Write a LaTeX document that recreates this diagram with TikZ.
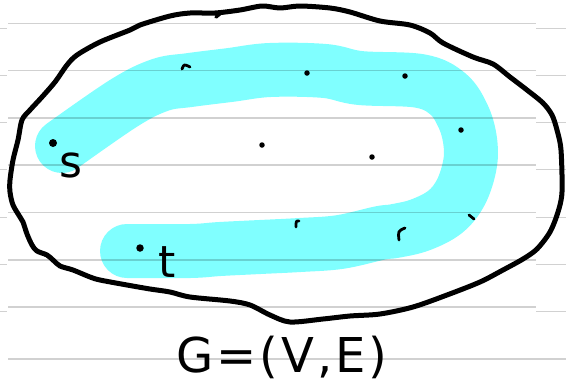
\documentclass[tikz,border=0pt]{standalone}
\usepackage{fontspec}
\usepackage{tikz}
\newfontfamily\handfont[LetterSpace=6]{DejaVu Sans}
\usetikzlibrary{
    positioning
}
\definecolor{PathCyan}{RGB}{128,255,255}
\tikzset{
  ink/.style    = {black, line width=5pt, line cap=round, line join=round},
  speck/.style  = {black, line width=2.8pt, line cap=round},
  vtx/.style    = {circle, fill=black, inner sep=0pt, minimum size=5.5pt},
  ruled/.style  = {black, opacity=0.18, line width=1.3pt},
  hl/.style     = {PathCyan, line width=54pt, line cap=round, line join=round},
  lbl/.style    = {inner sep=0pt, anchor=base, font=\handfont\fontsize{44}{44}\selectfont},
  glbl/.style   = {inner sep=0pt, anchor=base, font=\handfont\fontsize{48}{48}\selectfont}
}

\begin{document}
\begin{tikzpicture}[x=1pt, y=-1pt]
        \useasboundingbox (0,0) rectangle (566,384);
        \fill[white] (0,0) rectangle (566,384);
        \draw[hl] plot[smooth, tension=0.6] coordinates {(62,146) (124,103) (160,85) (190,80) (230,75) (270,70) (325,71) (360,78) (420,81) (448,94) (463,116) (470,140) (470,164) (461,192) (445,212) (420,225) (395,231) (380,233) (340,242) (300,245) (260,247) (220,249) (190,251) (127,251)};
        \foreach \y in {23.5,70.5,118,165,212.5,260,307} {
          \draw[ruled] (8,\y) -- (536,\y);
          \draw[ruled] (0,\y+4.7) -- (7,\y+4.7);
          \draw[ruled] (536,\y+4.7) -- (566,\y+4.7);
        }
        \draw[ruled] (8,359) -- (566,359);
        \draw[ink] plot[smooth cycle, tension=0.5] coordinates {(190,13) (215,13) (240,10) (262,6) (280,8) (300,6) (330,8) (350,12) (380,21) (410,25) (430,33) (443,43) (473,57) (493,64) (510,77) (527,90) (543,103) (552,115) (557,130) (561,150) (562,192) (558,212) (550,232) (537,249) (523,259) (503,270) (480,282) (447,295) (413,307) (380,314) (350,316) (323,319) (290,322) (270,315) (250,305) (230,301) (190,297) (170,292) (150,289) (127,285) (100,280) (90,277) (73,270) (60,266) (53,260) (47,255) (37,251) (32,245) (27,234) (23,222) (20,217) (13,205) (10,192) (10,180) (13,160) (18,140) (22,120) (30,110) (42,97) (55,82) (67,65) (77,55) (100,42) (130,30) (140,25) (170,16)};
        \draw[ink, line width=3.5pt] (216,17) -- (222,12);
        \node[vtx, minimum size=8pt] (s) at (53,143) {};
        \node[vtx, minimum size=7.5pt] (t) at (140,248) {};
        \node[lbl] (sname) at (71,177) {s};
        \node[lbl] (tname) at (167,277) {t};
        \node[vtx] (v1) at (307,73) {};
        \node[vtx] (v2) at (405,76) {};
        \node[vtx] (v3) at (461,130) {};
        \node[vtx] (v4) at (262,145) {};
        \node[vtx] (v5) at (372,157) {};
        \draw[speck] (182,69) .. controls (184,64) .. (190,67);
        \draw[speck] (469,215) -- (474,219);
        \draw[speck] (405,228) .. controls (398,231) .. (399,240);
        \draw[speck] (296,227) .. controls (296,221) .. (299,221);
        \node[glbl] (gname) at (282,372) {G=(V,E)};
      \end{tikzpicture}
\end{document}
